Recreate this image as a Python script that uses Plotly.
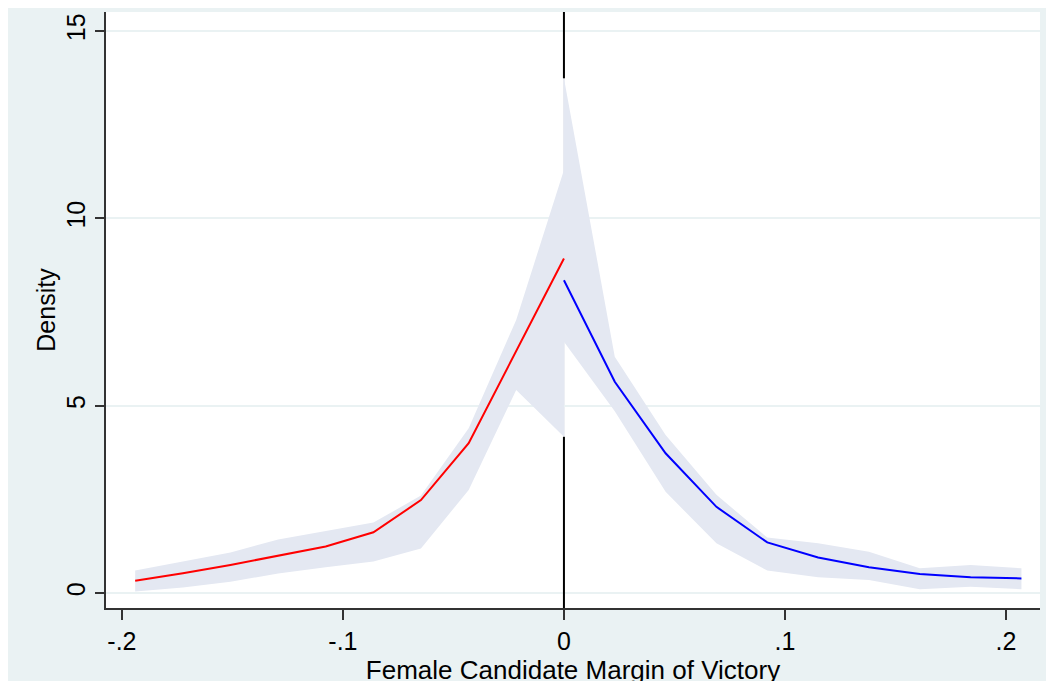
import numpy as np
import plotly.graph_objects as go

# ---- data ----
left_x = [-0.194, -0.1724, -0.1509, -0.1293, -0.1078, -0.0862, -0.0647, -0.0431, -0.0216, 0.0]
left_density = [0.33, 0.53, 0.75, 0.99, 1.24, 1.62, 2.48, 4.00, 6.45, 8.93]
left_upper = [0.60, 0.84, 1.08, 1.43, 1.66, 1.88, 2.60, 4.40, 7.29, 11.29]
left_lower = [0.04, 0.15, 0.30, 0.52, 0.69, 0.84, 1.19, 2.75, 5.42, 4.17]

right_x = [0.0, 0.023, 0.046, 0.069, 0.092, 0.115, 0.138, 0.161, 0.184, 0.207]
right_density = [8.35, 5.64, 3.73, 2.30, 1.35, 0.95, 0.69, 0.51, 0.42, 0.39]
right_upper = [13.74, 6.31, 4.22, 2.62, 1.48, 1.33, 1.10, 0.66, 0.75, 0.66]
right_lower = [6.71, 4.85, 2.70, 1.33, 0.60, 0.42, 0.35, 0.10, 0.17, 0.10]

cutoff = 0.0
x_tickvals = [-0.2, -0.1, 0, 0.1, 0.2]
x_ticktext = ["-.2", "-.1", "0", ".1", ".2"]
y_tickvals = [0, 5, 10, 15]
y_ticktext = ["0", "5", "10", "15"]
x_title = "Female Candidate Margin of Victory"
y_title = "Density"

x_range = [-0.2072, 0.2154]
y_range = [-0.40, 15.51]

BG = "#eaf2f3"
BAND = "rgb(228,232,242)"
FONT = "Liberation Sans, Arial, Helvetica, sans-serif"

fig = go.Figure()


def band(xs, lo, hi):
    xs = np.asarray(xs)
    px = np.concatenate([xs, xs[::-1]])
    py = np.concatenate([np.asarray(hi), np.asarray(lo)[::-1]])
    return go.Scatter(x=px, y=py, fill="toself", fillcolor=BAND,
                      line=dict(width=0), mode="lines", hoverinfo="skip",
                      showlegend=False)


fig.add_trace(band(left_x, left_lower, left_upper))
fig.add_trace(band(right_x, right_lower, right_upper))
fig.add_trace(go.Scatter(x=left_x, y=left_density, mode="lines",
                         line=dict(color="#ff0000", width=2), showlegend=False))
fig.add_trace(go.Scatter(x=right_x, y=right_density, mode="lines",
                         line=dict(color="#0000ff", width=2), showlegend=False))

# cutoff line: black outside the confidence bands, faint where the bands hide it
band_top = max(left_upper[-1], right_upper[0])
band_bot = min(left_lower[-1], right_lower[0])
fig.add_shape(type="line", xref="x", yref="y", x0=cutoff, x1=cutoff,
              y0=band_top, y1=y_range[1], line=dict(color="black", width=2),
              layer="above")
fig.add_shape(type="line", xref="x", yref="y", x0=cutoff, x1=cutoff,
              y0=y_range[0], y1=band_bot, line=dict(color="black", width=2),
              layer="above")
fig.add_shape(type="line", xref="x", yref="y", x0=cutoff, x1=cutoff,
              y0=band_bot, y1=band_top, line=dict(color="rgb(214,218,230)", width=1),
              layer="below")

fig.update_layout(
    width=1054, height=681,
    margin=dict(l=98, r=22, t=4, b=81),
    paper_bgcolor=BG, plot_bgcolor="white",
    font=dict(family=FONT, size=25, color="black"),
    showlegend=False,
)

fig.update_xaxes(
    range=x_range, tickvals=x_tickvals, ticktext=x_ticktext,
    showgrid=False, zeroline=False,
    showline=True, linecolor="#333333", linewidth=1.5,
    ticks="outside", ticklen=10, tickwidth=1.5, tickcolor="#333333",
    tickfont=dict(size=25),
    title=dict(text=x_title, font=dict(size=26), standoff=0),
)
fig.update_yaxes(
    range=y_range, tickvals=y_tickvals, ticktext=y_ticktext,
    tickangle=-90,
    showgrid=True, gridcolor=BG, gridwidth=2, zeroline=False,
    showline=True, linecolor="#333333", linewidth=1.5,
    ticks="outside", ticklen=9, tickwidth=1.5, tickcolor="#333333",
    tickfont=dict(size=25),
    title=dict(text=y_title, font=dict(size=25), standoff=0),
)

fig.write_html("out.html")
